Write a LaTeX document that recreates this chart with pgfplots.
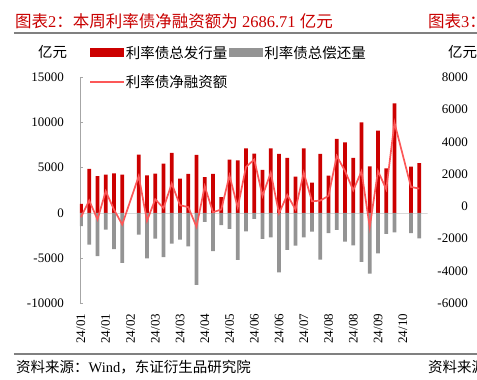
\documentclass[border=0pt]{standalone}
\usepackage{fontspec}
\setmainfont{Liberation Serif}
\newfontfamily\cjk{Noto Sans CJK SC}
\usepackage{pgfplots}
\usepackage{pgfplotstable}
\pgfplotsset{compat=1.18}
\definecolor{barred}{RGB}{204,0,0}
\definecolor{bargray}{RGB}{148,148,148}
\definecolor{netred}{RGB}{252,88,88}
\definecolor{titlered}{RGB}{200,0,0}
\definecolor{rulegray}{RGB}{128,128,128}
\newcommand\tickfont{\fontsize{13bp}{15bp}\selectfont}
\newcommand\legfont{\fontsize{14.5bp}{17bp}\selectfont}
\pgfplotstableread{
i iss rep net
0 1000 -1470 -470
1 4870 -3500 1370
2 4060 -4790 -730
3 4240 -1840 2400
4 4370 -4000 370
5 4240 -5530 -1290
6 nan nan nan
7 6460 -2390 4070
8 4150 -5030 -880
9 4350 -2850 1500
10 5440 -4900 540
11 6640 -3400 3240
12 3800 -2950 850
13 4330 -3690 640
14 6420 -7950 -1530
15 3950 -1000 2950
16 4310 -4240 70
17 1740 -1360 380
18 5900 -1770 4130
19 5800 -5200 600
20 7130 -2050 5080
21 6560 -650 5910
22 4760 -2880 1880
23 7150 -2700 4450
24 6530 -6570 -40
25 6080 -4090 1990
26 4010 -3620 390
27 7150 -2700 4450
28 3350 -2070 1280
29 6530 -5170 1360
30 4130 -2250 1880
31 8180 -1880 6300
32 7810 -3170 4640
33 6080 -3580 2500
34 10020 -5420 4600
35 5150 -6710 -1560
36 9100 -4470 4630
37 4930 -2320 2610
38 12120 -2150 9970
39 nan nan nan
40 5120 -2250 2870
41 5500 -2813 2687
}\data
\begin{document}
\begin{tikzpicture}
\begin{axis}[
  name=main,
  scale only axis, width=347.5bp, height=226bp,
  xmin=-0.12, xmax=42, ymin=-10000, ymax=15000,
  axis x line*=bottom, axis y line*=left,
  x axis line style={draw=none},
  y axis line style={draw=gray!70, line width=0.8bp},
  xtick={0,3,...,39},
  xticklabels={24/01,24/01,24/02,24/03,24/03,24/04,24/05,24/06,24/06,24/07,24/08,24/08,24/09,24/10},
  xticklabel style={rotate=90, anchor=east, font=\tickfont, inner xsep=10.5bp},
  major x tick style={draw=none},
  ytick={-10000,-5000,...,15000},
  scaled y ticks=false,
  yticklabel style={font=\tickfont, inner xsep=16bp},
  major y tick style={draw=gray!70, line width=0.8bp},
  major tick length=3bp,
  tick align=inside,
  /pgf/number format/1000 sep={},
  /pgf/number format/assume math mode=true,
  extra y ticks={-10000,-6428.57,-2857.14,714.29,4285.71,7857.14,11428.57,15000},
  extra y tick labels={-6000,-4000,-2000,0,2000,4000,6000,8000},
  extra y tick style={major tick length=0pt, major y tick style={draw=none},
    yticklabel style={inner xsep=4.3bp, anchor=east, xshift=392.3bp}},
  legend columns=2,
  legend cell align=left,
  legend style={at={(0.026,1.145)}, anchor=north west, draw=none, fill=none, font=\legfont, row sep=13.5bp, inner sep=0pt, nodes={inner sep=1bp}, /tikz/every even column/.append style={column sep=1bp}},
]
\addplot[gray!30, line width=0.8bp, forget plot] coordinates {(-0.12,0) (42,0)};
\addplot[ybar, bar width=3.6bp, bar shift=0pt, fill=barred, draw=none,
  legend image code/.code={\fill[barred] (0bp,-4.5bp) rectangle (34bp,4.5bp);}]
  table[x=i, y=iss] {\data};
\addlegendentry{\cjk 利率债总发行量}
\addplot[ybar, bar width=3.6bp, bar shift=0pt, fill=bargray, draw=none,
  legend image code/.code={\fill[bargray] (0bp,-4.5bp) rectangle (34bp,4.5bp);}]
  table[x=i, y=rep] {\data};
\addlegendentry{\cjk 利率债总偿还量}
\addplot[netred, line width=1.7bp, mark=none,
  legend image code/.code={\draw[netred, line width=1.7bp] (0bp,0bp) -- (34bp,0bp);}]
  table[x=i, y=net] {\data};
\addlegendentry{\cjk 利率债净融资额}
\coordinate (SW) at (rel axis cs:0,0);
\end{axis}
\begin{scope}[shift={(SW)}, x=1bp, y=1bp]
\node[anchor=west, text=titlered, font=\fontsize{16.5bp}{19bp}\selectfont, inner sep=0] at (-65,281.8) {{\cjk 图表}2{\cjk ：本周利率债净融资额为} 2686.71 {\cjk 亿元}};
\node[anchor=west, text=titlered, font=\fontsize{16.5bp}{19bp}\selectfont, inner sep=0] at (348,281.8) {{\cjk 图表}3{\cjk ：本周}};
\draw[rulegray, line width=1.6bp] (-66,270) -- (400,270);
\node[anchor=center, font=\legfont, inner sep=0] at (-27.5,251.6) {\cjk 亿元};
\node[anchor=west, font=\legfont, inner sep=0] at (368,251.6) {\cjk 亿元};
\draw[rulegray, line width=1.2bp] (-66,-50.7) -- (400,-50.7);
\node[anchor=west, font=\legfont, inner sep=0] at (-64,-64) {{\cjk 资料来源：}Wind{\cjk ，东证衍生品研究院}};
\node[anchor=west, font=\legfont, inner sep=0] at (348,-64) {{\cjk 资料来源：}Wind};
\end{scope}
\pgfresetboundingbox
\path[use as bounding box] ([shift={(-80bp,-76.7bp)}]SW) rectangle ([shift={(397bp,303.3bp)}]SW);
\end{tikzpicture}
\end{document}
